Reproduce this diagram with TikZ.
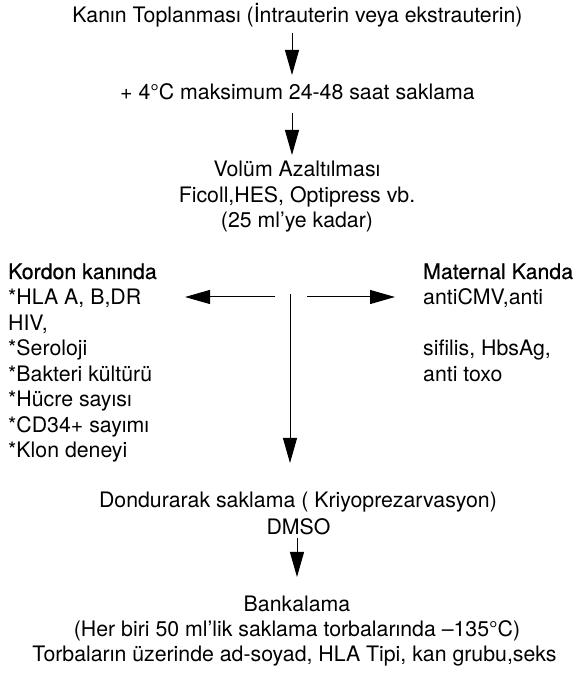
\documentclass[tikz,border=0pt]{standalone}
\usepackage{fontspec}
\setmainfont{TeX Gyre Heros}
\newfontfamily\headfont[FakeBold=0.6]{TeX Gyre Heros}
\usetikzlibrary{arrows.meta}
\begin{document}
\begin{tikzpicture}[x=1pt,y=1pt,
  txt/.style={anchor=base, inner sep=0pt, font=\fontsize{21.3}{25.5}\selectfont},
  lft/.style={txt, anchor=base west},
  head/.style={lft, font=\fontsize{21.3}{25.5}\selectfont\headfont},
  arr/.style={line width=1pt, -{Triangle[length=25pt,width=14pt]}}]
\useasboundingbox (0,0) rectangle (574,673);
% main column
\node[txt] (l1) at (297.5,650) {Kanın Toplanması (İntrauterin veya ekstrauterin)};
\node[txt] (l2) at (297.5,573) {+ 4°C maksimum 24-48 saat saklama};
\node[txt] (v1) at (297,496) {Volüm Azaltılması};
\node[txt] (v2) at (297,470.5) {Ficoll,HES, Optipress vb.};
\node[txt] (v3) at (297,445) {(25 ml’ye kadar)};
% left column
\node[head] (k0) at (8,394) {Kordon kanında};
\node[lft] (k1) at (8,368) {*HLA A, B,DR};
\node[lft] (k2) at (8,342.5) {HIV,};
\node[lft] (k3) at (8,317) {*Seroloji};
\node[lft] (k4) at (8,291.5) {*Bakteri kültürü};
\node[lft] (k5) at (8,266) {*Hücre sayısı};
\node[lft] (k6) at (8,240.5) {*CD34+ sayımı};
\node[lft] (k7) at (8,215) {*Klon deneyi};
% right column
\node[head] (m0) at (423,394) {Maternal Kanda};
\node[lft] (m1) at (423,368) {antiCMV,anti};
\node[lft] (m2) at (423,317) {sifilis, HbsAg,};
\node[lft] (m3) at (423,291.5) {anti toxo};
% lower column
\node[txt] (d1) at (298,165) {Dondurarak saklama ( Kriyoprezarvasyon)};
\node[txt] (d2) at (298.5,138) {DMSO};
\node[txt] (b1) at (297,61) {Bankalama};
\node[txt] (b2) at (297,36) {(Her biri 50 ml’lik saklama torbalarında –135°C)};
\node[txt] (b3) at (294.5,11) {Torbaların üzerinde ad-soyad, HLA Tipi, kan grubu,seks};
% connector end points
\coordinate (a1s) at (292,640);
\coordinate (a1e) at (292,598);
\coordinate (a2s) at (292,560);
\coordinate (a2e) at (292,518);
\coordinate (hl) at (275,376);
\coordinate (hle) at (185,376);
\coordinate (hr) at (307,376);
\coordinate (hre) at (395,376);
\coordinate (vs) at (290,379);
\coordinate (ve) at (290,210);
\coordinate (ds) at (297,135);
\coordinate (de) at (297,96);
\draw[arr] (a1s) -- (a1e);
\draw[arr] (a2s) -- (a2e);
\draw[arr] (hl) -- (hle);
\draw[arr] (hr) -- (hre);
\draw[arr] (vs) -- (ve);
\draw[arr] (ds) -- (de);
\end{tikzpicture}
\end{document}
